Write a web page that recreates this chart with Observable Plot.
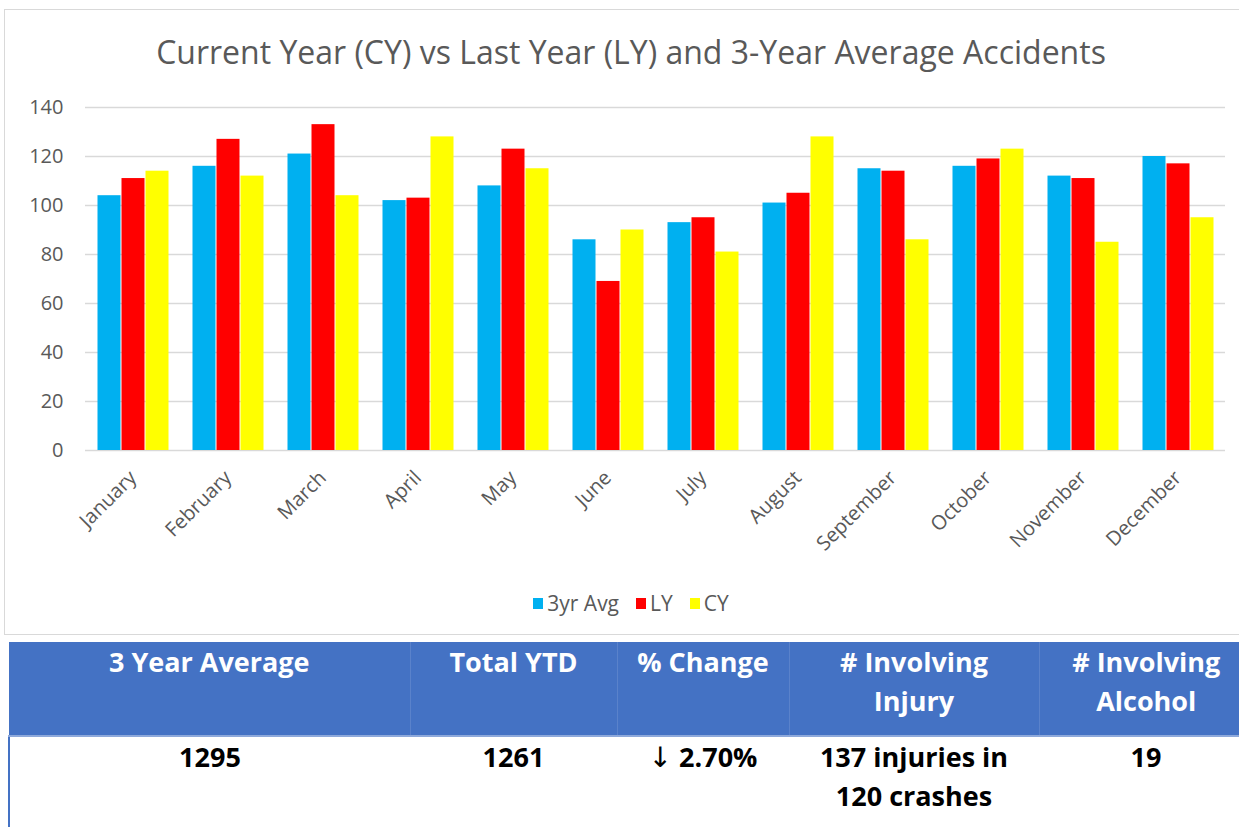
<!DOCTYPE html>
<html>
<head>
<meta charset="utf-8">
<script src="https://cdn.jsdelivr.net/npm/d3@7"></script>
<script src="https://cdn.jsdelivr.net/npm/@observablehq/plot@0.6"></script>
<style>
  html, body { margin: 0; padding: 0; background: #fff; width: 1239px; height: 827px; overflow: hidden; font-family: "Open Sans", sans-serif; }
  #box { position: absolute; left: 4px; top: 9px; width: 1260px; height: 626px; border: 1px solid #d9d9d9; box-sizing: border-box; }
  #title { position: absolute; left: 0; top: 32px; width: 1262px; text-align: center; font-size: 32px; line-height: 40px; color: #595959; }
  #chart { position: absolute; left: 0; top: 90px; }
  #legend { position: absolute; left: 0; top: 589px; width: 1262px; display: flex; justify-content: center; gap: 17px; font-size: 21px; line-height: 28px; color: #595959; }
  #legend .item { display: flex; align-items: center; gap: 4px; }
  #legend .sw { width: 10px; height: 11px; display: inline-block; }
  #stats { position: absolute; left: 8px; top: 642px; border-collapse: collapse; table-layout: fixed; font-family: "Open Sans", sans-serif; font-weight: 700; font-size: 27px; }
  #stats th { background: #4472C4; color: #fff; height: 93px; vertical-align: top; text-align: center; line-height: 39px; padding: 0; border-left: 1px solid #5a82cb; border-bottom: 2px solid #8EA9DB; font-weight: 700; }
  #stats th:first-child { border-left: none; }
  #stats td { color: #000; vertical-align: top; text-align: center; line-height: 39px; padding: 0; height: 92px; }
  #stats td:first-child { border-left: 2px solid #4472C4; }
  .arrow { font-family: "DejaVu Sans", sans-serif; font-weight: 400; font-size: 28px; }
</style>
</head>
<body>
<div id="box"></div>
<div id="title"></div>
<div id="chart"></div>
<div id="legend"></div>
<table id="stats"></table>
<script>
const titleText = "Current Year (CY) vs Last Year (LY) and 3-Year Average Accidents";
const months = ["January","February","March","April","May","June","July","August","September","October","November","December"];
const seriesNames = ["3yr Avg","LY","CY"];
const seriesColors = ["#00B0F0","#FF0000","#FFFF00"];
const avg3 = [104,116,121,102,108,86,93,101,115,116,112,120];
const lastYear = [111,127,133,103,123,69,95,105,114,119,111,117];
const currentYear = [114,112,104,128,115,90,81,128,86,123,85,95];
const yTicks = [0,20,40,60,80,100,120,140];
const tableHeaders = ["3 Year Average","Total YTD","% Change","# Involving<br>Injury","# Involving<br>Alcohol"];
const tableValues = ["1295","1261","<span class=\"arrow\">\u2193</span> 2.70%","137 injuries in<br>120 crashes","19"];
const colWidths = [401,207,172,250,214];

const seriesArrays = [avg3, lastYear, currentYear];
const data = months.flatMap((m, i) => seriesNames.map((s, j) => ({month: m, series: s, value: seriesArrays[j][i]})));

document.getElementById("title").textContent = titleText;

const chart = Plot.plot({
  width: 1239,
  height: 480,
  marginTop: 17,
  marginBottom: 120,
  marginLeft: 84,
  marginRight: 13,
  style: {fontFamily: "Open Sans", fontSize: "20px", color: "#595959", background: "transparent", overflow: "visible"},
  fx: {domain: months, padding: 0, label: null, tickRotate: -45, tickSize: 0, tickPadding: 24, dx: -4},
  x: {domain: seriesNames, paddingInner: 0, paddingOuter: 0.475, axis: null},
  y: {domain: [0, 140], ticks: yTicks, tickSize: 0, tickPadding: 22, label: null},
  color: {domain: seriesNames, range: seriesColors},
  marks: [
    Plot.gridY(yTicks, {stroke: "#d9d9d9", strokeOpacity: 1, strokeWidth: 1.5}),
    Plot.barY(data, {fx: "month", x: "series", y: "value", fill: "series", insetLeft: 0.5, insetRight: 0.5})
  ]
});
document.getElementById("chart").appendChild(chart);

const legend = document.getElementById("legend");
seriesNames.forEach((s, i) => {
  const item = document.createElement("div");
  item.className = "item";
  item.innerHTML = `<span class="sw" style="background:${seriesColors[i]}"></span><span>${s}</span>`;
  legend.appendChild(item);
});

const table = document.getElementById("stats");
const cg = document.createElement("colgroup");
colWidths.forEach(w => { const c = document.createElement("col"); c.style.width = w + "px"; cg.appendChild(c); });
table.appendChild(cg);
table.style.width = colWidths.reduce((a, b) => a + b, 0) + "px";
const hr = document.createElement("tr");
tableHeaders.forEach(h => { const th = document.createElement("th"); th.innerHTML = h; hr.appendChild(th); });
table.appendChild(hr);
const dr = document.createElement("tr");
tableValues.forEach(v => { const td = document.createElement("td"); td.innerHTML = v; dr.appendChild(td); });
table.appendChild(dr);
</script>
</body>
</html>
